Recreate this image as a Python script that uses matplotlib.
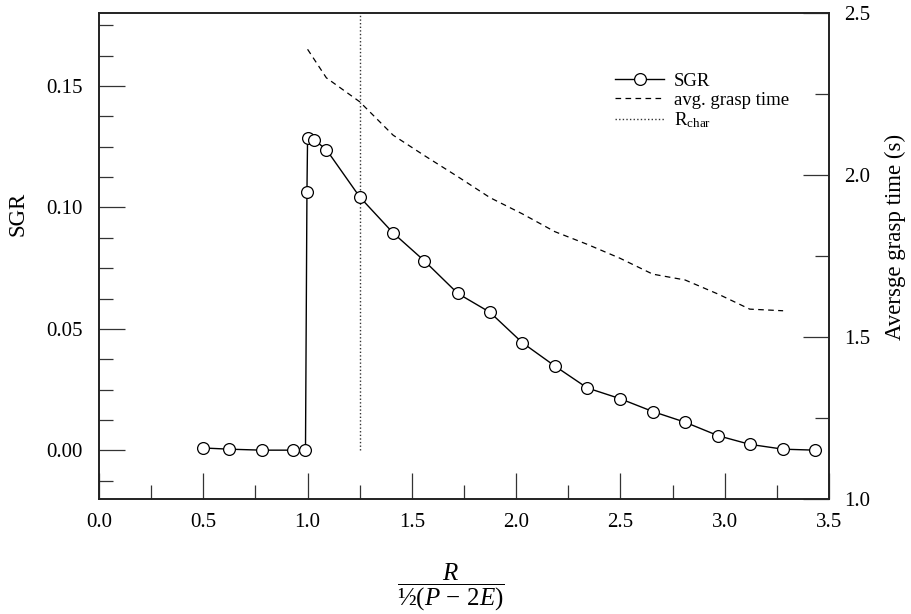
import numpy as np
import matplotlib
matplotlib.use("Agg")
import matplotlib.pyplot as plt
from matplotlib.ticker import MultipleLocator, FormatStrFormatter

plt.rcParams["font.family"] = "serif"
plt.rcParams["font.serif"] = ["Liberation Serif", "DejaVu Serif"]
plt.rcParams["mathtext.fontset"] = "custom"
plt.rcParams["mathtext.rm"] = "Liberation Serif"
plt.rcParams["mathtext.it"] = "Liberation Serif:italic"
plt.rcParams["mathtext.bf"] = "Liberation Serif:bold"

# SGR vs normalised radius
ratio = [0.5, 0.625, 0.78, 0.93, 0.99, 0.997, 1.0, 1.03, 1.09, 1.25, 1.41, 1.56,
         1.72, 1.875, 2.03, 2.186, 2.341, 2.498, 2.655, 2.81, 2.97, 3.12, 3.28, 3.434]
sgr = [0.0010, 0.0005, 0.0001, 0.0001, 0.0000, 0.1063, 0.1285, 0.1279, 0.1238, 0.1043,
       0.0895, 0.0780, 0.0646, 0.0568, 0.0443, 0.0347, 0.0257, 0.0213, 0.0160, 0.0116,
       0.0060, 0.0025, 0.0005, 0.0001]

# average grasp time (right axis)
ratio_t = [1.0, 1.09, 1.25, 1.41, 1.56, 1.72, 1.875, 2.03, 2.186, 2.341, 2.498,
           2.655, 2.81, 2.97, 3.12, 3.28]
grasp_time = [2.388, 2.300, 2.226, 2.123, 2.060, 1.995, 1.930, 1.880, 1.825, 1.786,
              1.743, 1.694, 1.676, 1.632, 1.586, 1.581]

r_char = 1.25
r_char_span = [0.0, 0.18]

fig = plt.figure(figsize=(9.11, 6.14), dpi=100)
ax1 = fig.add_axes([99 / 911, 1 - 499 / 614, 730 / 911, 486 / 614])
ax2 = ax1.twinx()

l1, = ax1.plot(ratio, sgr, color="black", lw=1.0, marker="o", markersize=8.5,
               markerfacecolor="white", markeredgecolor="black", markeredgewidth=0.9,
               label="SGR", zorder=3)
l3, = ax1.plot([r_char, r_char], r_char_span, color="#333333", lw=1.0,
               linestyle=(0, (1, 1.6)), label=r"R$_{\mathrm{char}}$")
l2, = ax2.plot(ratio_t, grasp_time, color="black", lw=0.9, linestyle=(0, (4.5, 3.5)),
               label="avg. grasp time")

ax1.set_xlim(0, 3.5)
ax1.set_ylim(-0.02, 0.18)
ax2.set_ylim(1.0, 2.5)

ax1.xaxis.set_major_locator(MultipleLocator(0.5))
ax1.xaxis.set_minor_locator(MultipleLocator(0.25))
ax1.yaxis.set_major_locator(MultipleLocator(0.05))
ax1.yaxis.set_minor_locator(MultipleLocator(0.0125))
ax2.yaxis.set_major_locator(MultipleLocator(0.5))
ax2.yaxis.set_minor_locator(MultipleLocator(0.25))
ax1.xaxis.set_major_formatter(FormatStrFormatter("%.1f"))
ax1.yaxis.set_major_formatter(FormatStrFormatter("%.2f"))
ax2.yaxis.set_major_formatter(FormatStrFormatter("%.1f"))

ax1.tick_params(axis="x", which="both", direction="in", top=False, labelsize=15, pad=10)
ax1.tick_params(axis="y", which="both", direction="in", right=False, labelsize=15, pad=12)
ax2.tick_params(axis="y", which="both", direction="in", labelsize=15, pad=11)
for ax in (ax1, ax2):
    ax.tick_params(which="major", length=19, width=0.9, color="#333333")
    ax.tick_params(which="minor", length=10, width=0.9, color="#333333")
    for sp in ax.spines.values():
        sp.set_linewidth(1.2)
        sp.set_color("#222222")

ax1.set_ylabel("SGR", fontsize=16.5)
ax1.yaxis.set_label_coords(-0.097, 0.586)
ax2.set_ylabel("Aversge grasp time (s)", fontsize=16.5)
ax2.yaxis.set_label_coords(1.077, 0.54)
ax1.set_xlabel(r"$\dfrac{R}{\mathrm{½}(P\,-\,2E)}$", fontsize=18)
ax1.xaxis.set_label_coords(0.482, -0.128)

ax1.legend([l1, l2, l3], [l1.get_label(), l2.get_label(), l3.get_label()],
           loc="upper right", bbox_to_anchor=(0.955, 0.893), frameon=False,
           fontsize=13.5, labelspacing=0.1, handlelength=2.6, handletextpad=0.5,
           borderaxespad=0)

fig.savefig("out.png", dpi=100)
